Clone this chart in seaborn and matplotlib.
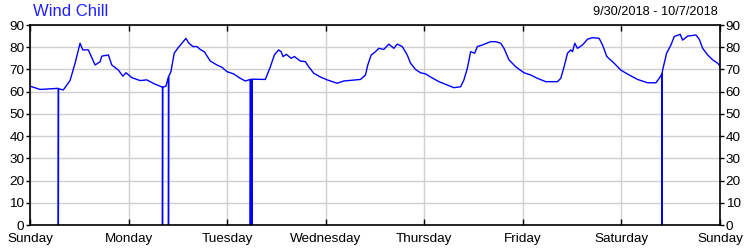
import matplotlib
matplotlib.use("Agg")
import matplotlib.pyplot as plt
import seaborn as sns
import pandas as pd

# hours since Sunday 00:00 (9/30/2018)
hours = [0.0, 2.44, 6.9, 6.9, 6.95, 8.12, 9.75, 10.97, 12.19, 12.85, 14.2, 15.85, 17.07, 17.48,
         19.09, 19.92, 21.53, 22.6, 23.4, 24.8, 26.8, 28.45, 30.06, 32.26, 32.26, 32.3, 33.09,
         33.72, 33.72, 33.76, 34.31, 35.11, 36.16, 36.99, 37.96, 38.6, 39.67, 40.65, 41.45, 42.43,
         43.89, 45.52, 46.74, 47.96, 49.57, 51.2, 52.42, 53.64, 53.64, 53.7, 54.0, 54.0, 54.05,
         54.3, 57.3, 58.52, 59.49, 60.54, 61.13, 61.61, 62.42, 63.57, 64.37, 65.83, 67.05, 67.86,
         69.08, 70.71, 72.35, 74.78, 76.39, 80.46, 81.68, 82.24, 83.07, 84.12, 84.93, 86.15, 87.37,
         88.59, 89.41, 90.63, 91.85, 92.66, 93.87, 95.09, 96.31, 97.53, 99.56, 101.6, 103.21,
         104.85, 105.65, 106.48, 107.29, 108.26, 108.92, 110.14, 112.16, 113.38, 114.6, 115.41,
         116.63, 118.26, 120.28, 121.92, 123.55, 125.57, 128.43, 129.23, 130.04, 130.87, 131.67,
         132.09, 132.64, 133.3, 134.52, 135.74, 136.96, 138.57, 139.4, 140.45, 142.23, 143.86,
         145.89, 147.93, 150.37, 152.39, 153.2, 153.86, 153.86, 153.9, 154.03, 155.0, 156.05,
         156.86, 158.32, 158.9, 160.12, 162.15, 162.95, 163.78, 165.0, 166.22, 167.44, 168.0]
wind_chill = [62.5, 61.0, 61.5, 0, 61.3, 60.8, 65.0, 72.8, 81.8, 78.8, 78.8, 72.0, 73.5, 76.0,
              76.5, 72.0, 69.7, 67.0, 68.5, 66.3, 65.0, 65.3, 63.7, 62.0, 0, 62.0, 62.5,
              66.7, 0, 66.8, 69.0, 77.3, 80.0, 81.8, 84.0, 82.0, 80.3, 80.3, 79.0, 78.0,
              73.8, 72.0, 71.0, 69.0, 68.0, 66.0, 64.8, 65.5, 0, 65.5, 65.5, 0, 65.6,
              65.6, 65.5, 71.2, 76.5, 78.8, 78.0, 75.8, 76.8, 75.0, 75.8, 73.8, 73.5, 71.2,
              68.3, 66.6, 65.3, 63.8, 64.8, 65.5, 67.5, 72.0, 76.5, 78.0, 79.5, 79.0, 81.4,
              79.5, 81.4, 80.3, 76.5, 72.8, 70.0, 68.5, 68.0, 66.6, 64.5, 63.0, 61.8,
              62.2, 65.3, 70.5, 78.0, 77.3, 80.3, 81.0, 82.5, 82.5, 81.8, 79.5,
              74.3, 71.2, 68.5, 67.5, 66.0, 64.5, 64.5, 66.0, 71.2, 77.3, 78.8,
              78.0, 81.8, 79.5, 81.0, 83.6, 84.3, 84.0, 81.0, 75.8, 72.8, 69.7,
              67.5, 65.5, 64.0, 64.0, 66.0, 68.0, 0, 68.5, 69.7, 77.3, 81.0,
              84.8, 85.8, 83.2, 85.0, 85.5, 83.6, 79.5, 76.5, 74.3, 72.8, 71.5]
day_labels = ["Sunday", "Monday", "Tuesday", "Wednesday", "Thursday", "Friday", "Saturday", "Sunday"]
y_ticks = [0, 10, 20, 30, 40, 50, 60, 70, 80, 90]
title = "Wind Chill"
date_range = "9/30/2018 - 10/7/2018"

df = pd.DataFrame({"hour": hours, "value": wind_chill})

sns.set_theme(style="white")
plt.rcParams["font.family"] = ["Liberation Sans", "DejaVu Sans"]

fig = plt.figure(figsize=(7.5, 2.5), dpi=100)
ax = fig.add_axes([0.04, 0.1, 0.92, 0.8])

sns.lineplot(data=df, x="hour", y="value", estimator=None, sort=False,
             color="#0000ff", linewidth=1.0, ax=ax)

ax.set_xlim(0, 168)
ax.set_ylim(0, 90)
ax.set_xticks([24 * i for i in range(len(day_labels))])
ax.set_xticklabels(day_labels)
ax.set_yticks(y_ticks)
ax.set_xlabel("")
ax.set_ylabel("")
ax.grid(True, color="#d0d0d0", linewidth=1.0)
ax.set_axisbelow(True)

for s in ax.spines.values():
    s.set_visible(True)
    s.set_color("black")
    s.set_linewidth(1.2)

ax.tick_params(axis="x", direction="in", length=4, width=1, top=True, bottom=True,
               labelsize=9.7, colors="black", pad=5.5)
ax.tick_params(axis="y", direction="out", length=3, width=1, left=True, right=True,
               labelleft=True, labelright=True, labelsize=9.7, colors="black", pad=1)

fig.text(33 / 750, 1 - 12 / 250, title, color="#2020ff", fontsize=12, ha="left", va="center")
fig.text(718 / 750, 1 - 12 / 250, date_range, color="black", fontsize=9.2, ha="right", va="center")

fig.savefig("out.png", dpi=100)
